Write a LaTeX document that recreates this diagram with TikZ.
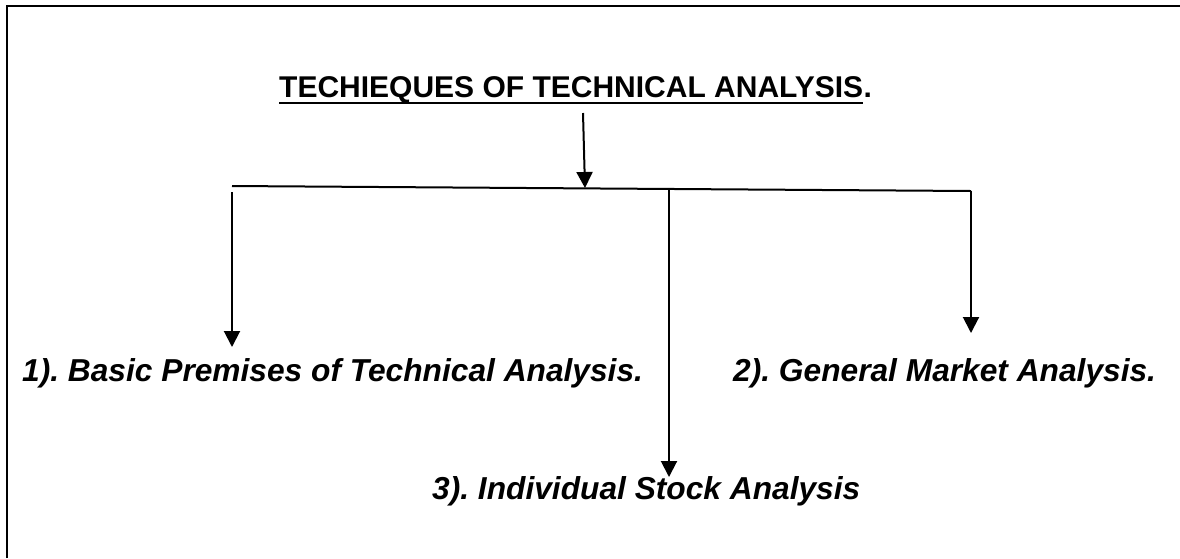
\documentclass[tikz,border=0pt]{standalone}
\usepackage{fontspec}
\setmainfont{Liberation Sans}
\usetikzlibrary{arrows.meta}
\frenchspacing

\tikzset{
  x=1pt, y=-1pt,
  conn/.style={line width=2pt, black},
  arr/.style={conn, -{Triangle[width=16pt,length=16pt]}},
  headtext/.style={inner sep=0pt, anchor=base west, font=\fontsize{30}{35}\selectfont\bfseries},
  itemtext/.style={inner sep=0pt, anchor=base west, font=\fontsize{31.7}{37}\selectfont\bfseries\itshape},
}

\begin{document}
\begin{tikzpicture}
  \useasboundingbox (0,0) rectangle (1180,558);

  % page frame, left and top edges
  \draw[line width=2pt] (7,558) -- (7,6) -- (1180,6);

  % heading
  \node[headtext] (title) at (279,97) {TECHIEQUES OF TECHNICAL ANALYSIS};
  \node[headtext] (dot) at (title.base east) {.};
  \draw[line width=2.2pt] ([yshift=-6pt]title.base west) -- ([yshift=-6pt]title.base east);

  % branching bar
  \coordinate (top) at (583,113);
  \coordinate (barL) at (232,186);
  \coordinate (barR) at (971,191);
  \coordinate (barM) at (669,189);
  \coordinate (barT) at (585,188);
  \draw[conn] (barL) -- (barR);
  \draw[arr] (top) -- (barT);

  % items
  \node[itemtext] (i1) at (22,381) {1). Basic Premises of Technical Analysis.};
  \node[itemtext] (i2) at (733,381) {2). General Market Analysis.};
  \node[itemtext] (i3) at (432,499) {3). Individual Stock Analysis};

  \coordinate (t1) at (232,347);
  \coordinate (t2) at (971,333);
  \coordinate (t3) at (669,477);
  \draw[arr] ([yshift=-6pt]barL) -- (t1);
  \draw[arr] (barR) -- (t2);
  \draw[arr] (barM) -- (t3);
\end{tikzpicture}
\end{document}
